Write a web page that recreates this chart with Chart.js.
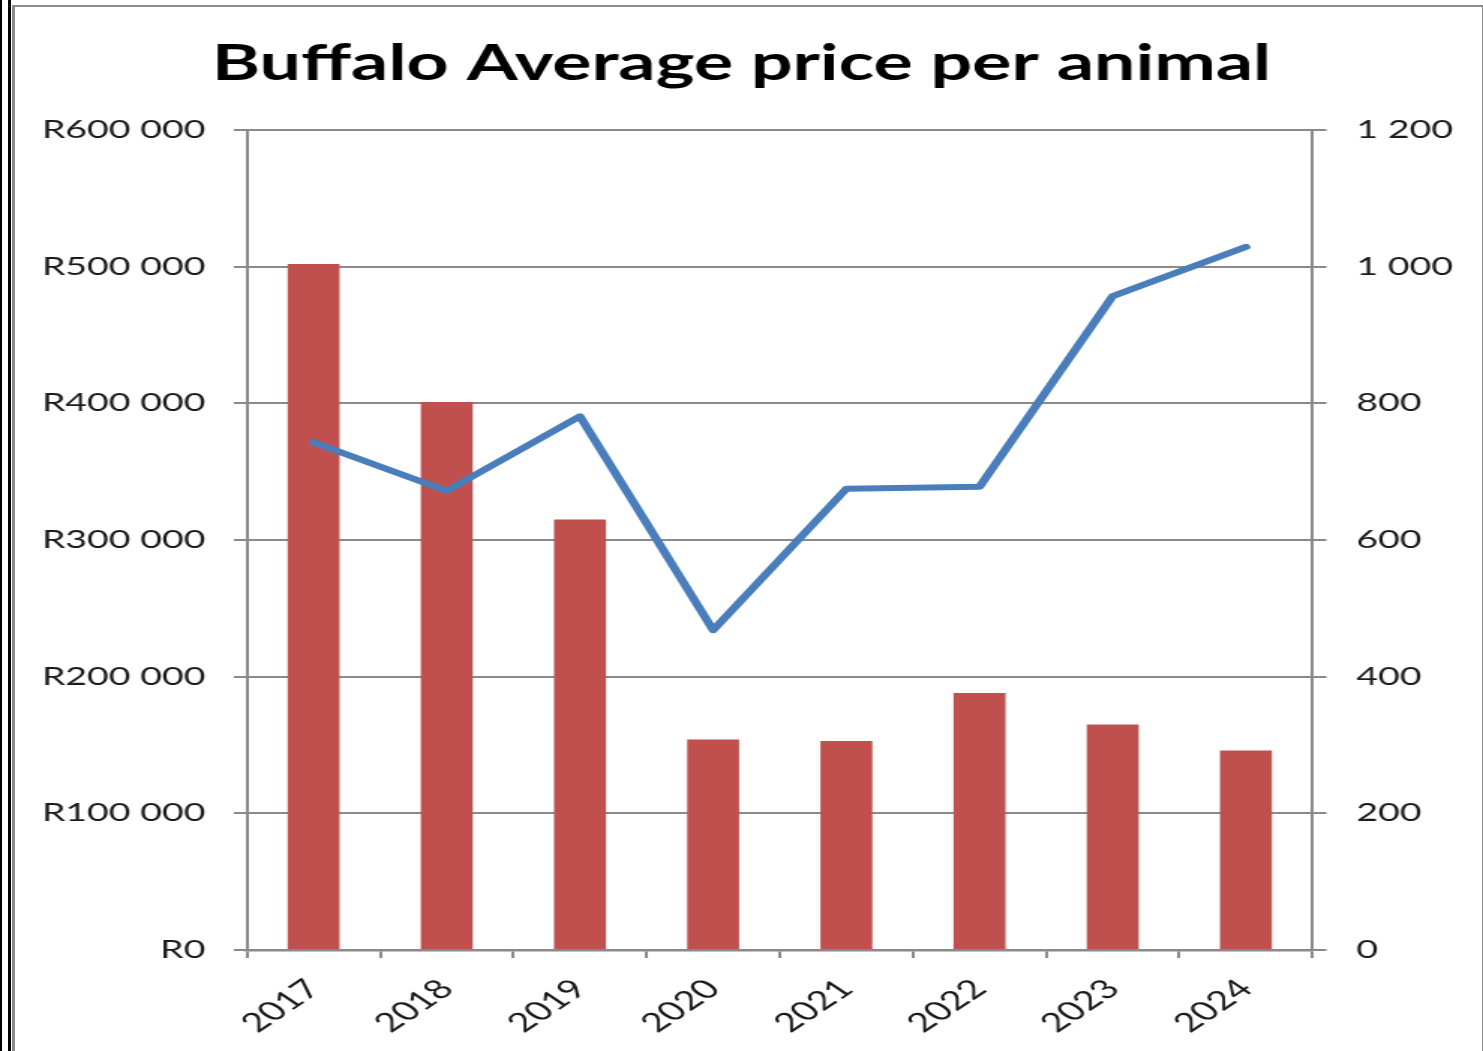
<!DOCTYPE html>
<html>
<head>
<meta charset="utf-8">
<script src="https://cdn.jsdelivr.net/npm/chart.js@4"></script>
<style>
  html, body { margin:0; padding:0; background:#fff; width:1483px; height:1051px; overflow:hidden; }
  #wrap { position:absolute; left:0; top:0; width:989px; height:1051px; transform:scaleX(1.4995); transform-origin:0 0; }
  #frame { position:absolute; left:12px; top:5px; width:1467px; height:1100px; border-top:2px solid #8c8c8c; border-left:3px solid #8c8c8c; border-right:2px solid #8c8c8c; pointer-events:none; }
  #strip { position:absolute; left:8px; top:0; width:3px; height:1051px; background:#000; }
  #strip2 { position:absolute; left:0; top:0; width:2px; height:1051px; background:#000; }
</style>
</head>
<body>
<div id="wrap"><canvas id="c" width="989" height="1051"></canvas></div>
<div id="frame"></div>
<div id="strip"></div>
<div id="strip2"></div>
<script>
const years = ['2017','2018','2019','2020','2021','2022','2023','2024'];
const avgPrice = [502000, 401000, 315000, 154000, 153000, 188000, 165000, 146000];
const animalsSold = [743, 672, 781, 468, 675, 678, 957, 1029];
const titleText = 'Buffalo Average price per animal';

function spaced(n) {
  return String(Math.round(n)).replace(/\B(?=(\d{3})+(?!\d))/g, ' ');
}

const gridColor = '#8a8a8a';
const yFont = { family: 'Lato', size: 25 };
const xFont = { family: 'Lato', size: 26.5 };

new Chart(document.getElementById('c'), {
  data: {
    labels: years,
    datasets: [
      {
        type: 'line',
        label: 'Animals',
        data: animalsSold,
        yAxisID: 'y1',
        borderColor: '#4a7ebb',
        backgroundColor: '#4a7ebb',
        borderWidth: 6,
        pointRadius: 0,
        tension: 0,
        borderCapStyle: 'round',
        borderJoinStyle: 'round',
        order: 0
      },
      {
        type: 'bar',
        label: 'Average price',
        data: avgPrice,
        yAxisID: 'y',
        backgroundColor: '#c0504d',
        barPercentage: 0.39,
        categoryPercentage: 1.0,
        order: 1
      }
    ]
  },
  options: {
    responsive: false,
    animation: false,
    layout: { padding: 0 },
    plugins: {
      legend: { display: false },
      tooltip: { enabled: false },
      title: {
        display: true,
        text: titleText,
        color: '#000',
        font: { family: 'Lato', size: 49, weight: 'bold', lineHeight: 1.2 },
        padding: { top: 35, bottom: 36.2 }
      }
    },
    scales: {
      x: {
        offset: true,
        grid: { display: true, offset: true, drawOnChartArea: false, color: gridColor, lineWidth: 2, tickLength: 8 },
        border: { display: true, color: gridColor, width: 2.5 },
        ticks: { color: '#1a1a1a', font: xFont, minRotation: 45, maxRotation: 45, padding: 15 },
        afterFit: s => { s.height = 101; }
      },
      y: {
        position: 'left',
        min: 0, max: 600000,
        ticks: { stepSize: 100000, color: '#1a1a1a', font: yFont, padding: 19,
          callback: v => 'R' + spaced(v) },
        grid: { color: gridColor, lineWidth: 2, tickLength: 8.7 },
        border: { display: true, color: gridColor, width: 2 },
        afterFit: s => { s.width = 164.7; }
      },
      y1: {
        position: 'right',
        min: 0, max: 1200,
        ticks: { stepSize: 200, color: '#1a1a1a', font: yFont, padding: 20,
          callback: v => spaced(v) },
        grid: { drawOnChartArea: false, color: gridColor, lineWidth: 2, tickLength: 9.3 },
        border: { display: true, color: gridColor, width: 2 },
        afterFit: s => { s.width = 113.7; }
      }
    }
  }
});
</script>
</body>
</html>
